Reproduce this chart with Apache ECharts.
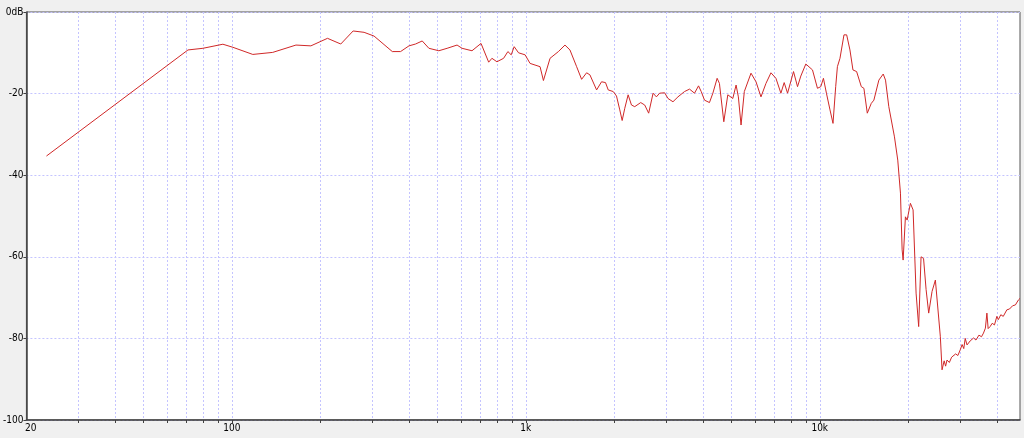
<!DOCTYPE html>
<html>
<head>
<meta charset="utf-8">
<script src="https://cdn.jsdelivr.net/npm/echarts@6/dist/echarts.min.js"></script>
<style>
html,body{margin:0;padding:0;background:#f0f0f0;}
#c{width:1024px;height:438px;}
</style>
</head>
<body>
<div id="c"></div>
<script>
// Frequency (Hz) of each measured point
const freqs = [
  23.4, 70.9, 79.7, 93.2, 100.8, 117.8, 137.7, 165.2, 185.7, 211.5,
  234.7, 258.5, 281.7, 304.6, 351.4, 374.9, 400.4, 421.5, 444.2, 468.1,
  506, 539.8, 583.6, 606.9, 656.1, 704.1, 747.6, 766.9, 797.5, 840.3,
  869, 891.8, 912.9, 944.7, 994.5, 1034, 1075, 1118, 1148, 1209,
  1291, 1359, 1413, 1489, 1548, 1610, 1652, 1741, 1810, 1867,
  1907, 1983, 2035, 2088, 2127, 2171, 2229, 2288, 2347, 2460,
  2538, 2618, 2710, 2781, 2853, 2967, 3046, 3167, 3293, 3467,
  3606, 3749, 3869, 3951, 4054, 4215, 4329, 4476, 4557, 4716,
  4866, 5060, 5192, 5286, 5398, 5538, 5836, 6069, 6310, 6561,
  6823, 7094, 7376, 7568, 7771, 8143, 8402, 8622, 8966, 9447,
  9822, 10080, 10292, 10537, 10836, 11094, 11330, 11482, 11717, 12090,
  12346, 12668, 12969, 13348, 13849, 14132, 14511, 14972, 15280, 15887,
  16441, 16739, 17175, 17954, 18423, 18817, 19066, 19216, 19564, 19826,
  20344, 20775, 21268, 21704, 22113, 22550, 23000, 23476, 24100, 24737,
  25720, 26062, 26500, 26800, 27100, 27600, 28100, 28500, 29000, 29500,
  30060, 30500, 30900, 31250, 31700, 32500, 33370, 34000, 34800, 35500,
  36059, 36600, 37035, 37400, 37980, 38600, 39300, 40043, 40500, 41300,
  42100, 43297, 44200, 45300, 46300, 47383, 48000
];
// Level (dB) at each frequency
const levels = [
  -35.3, -9.3, -8.9, -7.9, -8.65, -10.4, -9.9, -8.1, -8.3, -6.45,
  -7.85, -4.65, -4.98, -5.9, -9.7, -9.7, -8.3, -7.85, -7.1, -8.9,
  -9.5, -8.9, -8.1, -8.9, -9.5, -7.7, -12.3, -11.35, -12.2, -11.35,
  -9.7, -10.5, -8.5, -10.0, -10.5, -12.6, -13.0, -13.4, -16.8, -11.35,
  -9.7, -8.1, -9.3, -13.4, -16.5, -14.9, -15.4, -19.1, -17.1, -17.3,
  -19.1, -19.5, -20.6, -24.0, -26.6, -23.6, -20.3, -22.8, -23.2, -22.2,
  -22.8, -24.8, -19.9, -20.8, -19.9, -19.8, -21.2, -22.0, -20.8, -19.5,
  -18.9, -19.9, -18.1, -19.5, -21.6, -22.2, -19.9, -16.25, -17.5, -26.9,
  -20.3, -21.2, -17.9, -20.8, -27.7, -19.5, -15.0, -17.1, -20.8, -17.5,
  -14.9, -16.25, -19.9, -17.3, -19.9, -14.6, -18.3, -15.7, -12.75, -14.2,
  -18.7, -18.3, -16.25, -19.9, -24.0, -27.3, -18.3, -13.4, -11.35, -5.6,
  -5.6, -9.3, -14.2, -14.6, -18.3, -18.7, -24.8, -22.4, -21.6, -16.7,
  -15.2, -16.7, -23.2, -30.6, -36.3, -44.4, -58.3, -60.8, -50.2, -51.0,
  -46.9, -48.5, -68.9, -77.1, -60.0, -60.4, -68.0, -73.8, -68.5, -65.7,
  -79.6, -87.7, -85.5, -86.8, -85.3, -85.9, -84.6, -85.0, -83.8, -84.2,
  -82.8, -81.5, -82.5, -80.0, -81.6, -80.6, -79.9, -80.4, -79.2, -79.6,
  -78.7, -77.5, -73.8, -77.6, -77.1, -76.3, -76.7, -74.6, -75.4, -74.2,
  -74.6, -73.0, -72.8, -72.0, -71.8, -70.6, -70.2
];
// Vertical grid line frequencies (1-2-...-9 per decade)
const gridFreqs = [30,40,50,60,70,80,90,100,200,300,400,500,600,700,800,900,
  1000,2000,3000,4000,5000,6000,7000,8000,9000,10000,20000,30000,40000];
// Labelled x ticks
const xTickLabels = {20:'   20', 100:'100', 1000:'1k', 10000:'10k'};
const yMin = -100, yMax = 0, yStep = 20;

const chart = echarts.init(document.getElementById('c'), null, {renderer:'canvas'});
const FONT = '"Liberation Sans Narrow","DejaVu Sans Condensed","Liberation Sans",sans-serif';

const option = {
  animation: false,
  backgroundColor: '#f0f0f0',
  grid: {
    left: 23, right: 4, top: 12, bottom: 18,
    show: true, backgroundColor: '#ffffff', borderColor: '#555555', borderWidth: 1
  },
  xAxis: {
    type: 'log', logBase: 10, min: 20, max: 48000,
    axisLine: {show: true, onZero: false, lineStyle: {color: '#404040', width: 1.5}},
    axisTick: {show: false},
    splitLine: {show: false},
    minorTick: {show: false},
    axisLabel: {
      show: true, margin: 3, color: '#000', fontSize: 10, fontFamily: FONT,
      showMinLabel: true, showMaxLabel: true,
      formatter: function (v) {
        for (const k in xTickLabels) {
          if (Math.abs(v - Number(k)) / Number(k) < 1e-6) return xTickLabels[k];
        }
        return '';
      }
    }
  },
  yAxis: {
    type: 'value', min: yMin, max: yMax, interval: yStep,
    axisLine: {show: true, lineStyle: {color: '#404040', width: 1.5}},
    axisTick: {show: true, length: 3, lineStyle: {color: '#404040'}},
    splitLine: {show: true, lineStyle: {color: '#c4c4ff', type: [2, 2], width: 1}},
    axisLabel: {
      margin: 3, color: '#000', fontSize: 10, fontFamily: FONT,
      formatter: function (v) { return v === 0 ? '0dB' : String(v); }
    }
  },
  series: [
    {
      type: 'custom',
      silent: true,
      clip: false,
      z: 1,
      data: gridFreqs.map(f => [f]),
      encode: {x: 0},
      renderItem: function (params, api) {
        const f = api.value(0);
        const top = api.coord([f, yMax]);
        const bot = api.coord([f, yMin]);
        const x = Math.round(top[0]) + 0.5;
        return {
          type: 'group',
          children: [
            {type: 'line', shape: {x1: x, y1: top[1], x2: x, y2: bot[1]},
             style: {stroke: '#c4c4ff', lineWidth: 1, lineDash: [2, 2]}},
            {type: 'line', shape: {x1: x, y1: bot[1], x2: x, y2: bot[1] + 3},
             style: {stroke: '#404040', lineWidth: 1}}
          ]
        };
      }
    },
    {
      type: 'line',
      z: 5,
      data: freqs.map((f, i) => [f, levels[i]]),
      showSymbol: false,
      symbol: 'none',
      smooth: false,
      lineStyle: {color: '#d02828', width: 1},
      silent: true
    }
  ]
};
chart.setOption(option);
</script>
</body>
</html>
